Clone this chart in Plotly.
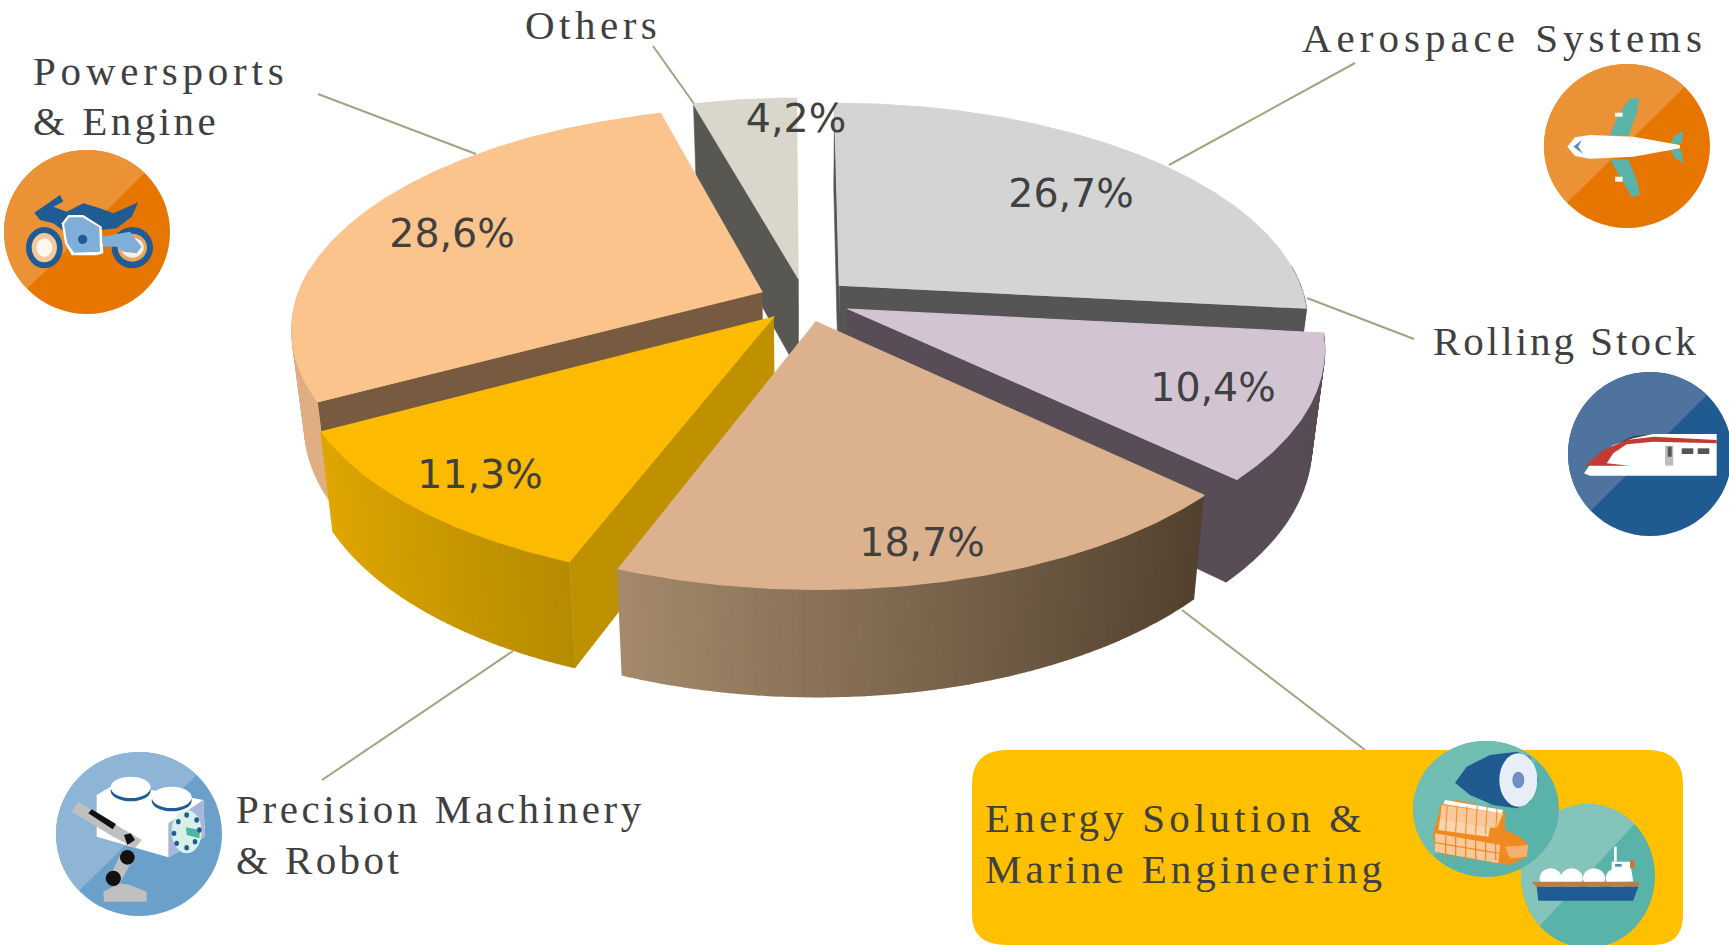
import json
import numpy as np
import plotly.graph_objects as go

# ---- data -------------------------------------------------------------
categories = ["Aerospace Systems", "Rolling Stock", "Energy Solution &\nMarine Engineering",
              "Precision Machinery\n& Robot", "Powersports\n& Engine", "Others"]
values = [26.7, 10.4, 18.7, 11.3, 28.6, 4.2]

# ---- style ------------------------------------------------------------
top_colors = ["#D4D4D4", "#D3C4D3", "#DBB28D", "#FCBB00", "#FBC48C", "#D9D7CB"]
wall_left = ["#555555", "#584C56", "#A48A6B", "#E0A600", "#E0AE84", "#55544F"]
wall_right = ["#555555", "#584C56", "#52412F", "#B58B00", "#E0AE84", "#55544F"]
face_colors = ["#555555", "#584C56", "#52412F", "#BF9000", "#785A40", "#585752"]
visible_faces = ["se", "e", "", "s", "s", "s"]
draw_order = [5, 0, 4, 1, 3, 2]
PULL = 0.1
CX, CY, RX, RY, PERSP, H, BOTTOM = 805, 300, 466, 216.5, 0.163, 94, 0.975
TEXT = "#404040"
LINE = "#A6A17F"
percent_xy = [(1071, 197), (1213, 391), (922, 546), (480, 478), (452, 237), (796, 122)]
label_xy = {
    0: [(1300, 38)], 1: [(1431, 341)], 2: [(983, 818), (983, 869)],
    3: [(234, 809), (234, 860)], 4: [(31, 71), (31, 121)], 5: [(523, 0)],
}
label_spacing = {0: [5.0], 1: [3.0], 2: [4.2, 4.0], 3: [3.6, 3.4], 4: [4.8, 3.5], 5: [4.5]}
leaders = [((1355, 63), (1169, 165)), ((1414, 339), (1307, 298)), ((1365, 750), (1182, 610)),
           ((322, 780), (513, 651)), ((318, 94), (476, 154)), ((653, 46), (697, 108))]


def project(X, Y, z=0.0):
    s = 1 / (1 + PERSP * Y)
    k = 1 - (1 - BOTTOM) * z
    return CX + RX * X * s * k, CY - RY * Y * s * k + H * z * s


fig = go.Figure()


def add_poly(xs, ys, color, width=0.6):
    fig.add_trace(go.Scatter(x=list(xs), y=list(ys), mode="lines", fill="toself", fillcolor=color,
                             line=dict(color=color, width=width), hoverinfo="skip", showlegend=False))


def mix(c1, c2, t):
    a = [int(c1[i:i + 2], 16) for i in (1, 3, 5)]
    b = [int(c2[i:i + 2], 16) for i in (1, 3, 5)]
    return "#%02X%02X%02X" % tuple(int(round(p + (q - p) * t)) for p, q in zip(a, b))


edges = np.concatenate([[0], np.cumsum(values)]) / 100 * 2 * np.pi
for i in draw_order:
    a0, a1 = edges[i], edges[i + 1]
    mid = (a0 + a1) / 2
    ox, oy = PULL * np.sin(mid), PULL * np.cos(mid)
    th = np.linspace(a0, a1, int(np.degrees(a1 - a0)) * 2 + 2)
    rimX, rimY = ox + np.sin(th), oy + np.cos(th)
    # cut faces
    for f in visible_faces[i]:
        a = a0 if f == "s" else a1
        ex, ey = ox + np.sin(a), oy + np.cos(a)
        p = [project(ox, oy, 0), project(ex, ey, 0), project(ex, ey, 1), project(ox, oy, 1)]
        add_poly([q[0] for q in p], [q[1] for q in p], face_colors[i])
    # outer wall, shaded left to right; the back of the rim faces away and is skipped
    xmin, xmax = rimX.min(), rimX.max()
    for j in range(len(th) - 1):
        if np.cos(th[j]) > 0.1:
            continue
        idx = np.array([j, j + 1])
        xt, yt = project(rimX[idx], rimY[idx], 0)
        xb, yb = project(rimX[idx], rimY[idx], 1)
        t = (rimX[idx].mean() - xmin) / max(xmax - xmin, 1e-6)
        add_poly(np.r_[xt, xb[::-1]], np.r_[yt, yb[::-1]], mix(wall_left[i], wall_right[i], t), width=1.6)
    # top
    xt, yt = project(np.r_[ox, rimX], np.r_[oy, rimY], 0)
    add_poly(xt, yt, top_colors[i], width=1.2)

# percent labels
fig.add_trace(go.Scatter(
    x=[p[0] for p in percent_xy], y=[p[1] for p in percent_xy], mode="text",
    text=[f"{v:.1f}".replace(".", ",") + "%" for v in values],
    textfont=dict(family="DejaVu Sans", size=39.5, color=TEXT),
    textposition="middle center", hoverinfo="skip", showlegend=False))

shapes = []


def line_shape(a, b):
    shapes.append(dict(type="line", x0=a[0], y0=a[1], x1=b[0], y1=b[1], layer="below",
                       line=dict(color=LINE, width=2)))


for a, b in leaders:
    line_shape(a, b)


def crop(ox, oy):
    """Helper that maps 3x zoom coordinates of an icon to page pixels."""
    return lambda x, y: (ox + x / 3, oy + y / 3)


def poly(m, pts, color, layer="above"):
    q = [m(*p) for p in pts]
    path = "M" + " L".join(f"{x:.1f},{y:.1f}" for x, y in q) + " Z"
    shapes.append(dict(type="path", path=path, fillcolor=color, line=dict(width=0), layer=layer))


def ell(m, cx, cy, rx, ry, color):
    x0, y0 = m(cx - rx, cy - ry)
    x1, y1 = m(cx + rx, cy + ry)
    shapes.append(dict(type="circle", x0=x0, y0=y0, x1=x1, y1=y1, fillcolor=color,
                       line=dict(width=0), layer="above"))


def badge(cx, cy, rx, ry, dark, light, off=0.02):
    """Two-tone round badge: light part is the upper left segment."""
    shapes.append(dict(type="circle", x0=cx - rx, y0=cy - ry, x1=cx + rx, y1=cy + ry, fillcolor=dark,
                       line=dict(width=0), layer="above"))
    span = np.arccos(off)
    base = np.radians(225)
    th = np.linspace(base - span, base + span, 60)
    pts = [(cx + rx * np.cos(t), cy + ry * np.sin(t)) for t in th]
    path = "M" + " L".join(f"{x:.1f},{y:.1f}" for x, y in pts) + " Z"
    shapes.append(dict(type="path", path=path, fillcolor=light, line=dict(width=0), layer="above"))


# yellow box
shapes.append(dict(type="path", layer="below", fillcolor="#FFC000", line=dict(width=0),
                   path="M972,785 Q972,750 1007,750 L1648,750 Q1683,750 1683,785 L1683,915 Q1683,945 1653,945 "
                        "L1007,945 Q972,945 972,915 Z"))

# motorcycle
badge(87, 232, 83, 82, "#E77600", "#EC9236")
m = crop(0, 20)
NAVY, LB = "#1F5C93", "#7FAFD8"
ell(m, 133, 683, 55, 62, NAVY); ell(m, 133, 683, 38, 44, "#F4C99E"); ell(m, 133, 683, 24, 28, "#FFF6EC")
ell(m, 397, 683, 62, 62, NAVY); ell(m, 397, 683, 44, 42, "#E9A560"); ell(m, 397, 683, 34, 30, "#FFF0E0")
poly(m, [(103, 578), (180, 525), (190, 545), (160, 560), (200, 575), (250, 550), (300, 565), (340, 580),
         (415, 547), (395, 590), (350, 625), (300, 630), (240, 640), (200, 640), (160, 610), (120, 600)], NAVY)
poly(m, [(185, 610), (205, 585), (250, 585), (305, 620), (310, 700), (290, 706), (215, 706), (195, 670)], "#FFFFFF")
poly(m, [(192, 612), (208, 592), (248, 592), (298, 622), (300, 695), (222, 698), (202, 670)], LB)
poly(m, [(305, 650), (390, 635), (400, 650), (425, 680), (410, 700), (370, 695), (350, 680), (310, 680)], LB)
ell(m, 248, 658, 14, 14, NAVY)

# aeroplane
badge(1627, 146, 83, 82, "#E77600", "#EC9236")
m = crop(1280, 0)
TEAL = "#59B3A9"
poly(m, [(990, 405), (1015, 345), (1050, 295), (1078, 295), (1070, 340), (1045, 408)], TEAL)
poly(m, [(990, 478), (1045, 478), (1070, 540), (1080, 585), (1055, 590), (1020, 530)], TEAL)
poly(m, [(1005, 338), (1028, 338), (1028, 350), (1005, 350)], "#FFF7E8")
poly(m, [(1005, 530), (1028, 530), (1028, 545), (1005, 545)], "#FFF7E8")
poly(m, [(1172, 430), (1185, 405), (1210, 393), (1205, 430)], TEAL)
poly(m, [(1172, 450), (1205, 450), (1210, 488), (1185, 475)], TEAL)
poly(m, [(862, 440), (885, 412), (930, 405), (1060, 410), (1200, 435), (1200, 445), (1060, 470), (930, 476),
         (885, 468)], "#FFFFFF")
poly(m, [(880, 440), (905, 420), (895, 440), (910, 462)], "#5E8DB8")

# train
badge(1650, 454, 82, 82, "#1F5A90", "#4F739F")
m = crop(1400, 300)
poly(m, [(552, 520), (580, 480), (640, 435), (700, 410), (760, 402), (950, 402), (950, 527), (570, 527)], "#FFFFFF")
poly(m, [(555, 497), (610, 450), (680, 420), (760, 410), (950, 420), (950, 430), (760, 425), (680, 433), (640, 460),
         (620, 490), (690, 497)], "#C23A33")
poly(m, [(640, 435), (700, 408), (760, 402), (700, 415)], "#444444")
poly(m, [(795, 437), (820, 437), (820, 497), (795, 497)], "#BDBDBD")
poly(m, [(803, 440), (815, 440), (815, 470), (803, 470)], "#555555")
poly(m, [(845, 445), (880, 445), (880, 462), (845, 462)], "#555555")
poly(m, [(893, 445), (928, 445), (928, 462), (893, 462)], "#555555")

# robot
badge(139, 834, 83, 82, "#6BA0CB", "#8FB5D6")
m = crop(40, 740)
poly(m, [(170, 165), (230, 130), (490, 180), (495, 290), (385, 352), (170, 290)], "#FFFFFF")
poly(m, [(385, 250), (490, 180), (495, 290), (385, 352)], "#A9B6D8")
ell(m, 440, 275, 45, 65, "#D8F0E8")
poly(m, [(438, 262), (480, 270), (478, 295), (440, 285)], "#4FB5A0")
for dx, dy in [(0, -50), (30, -35), (38, -5), (25, 30), (0, 48), (-30, 35), (-38, 5), (-25, -30)]:
    ell(m, 440 + dx, 275 + dy, 7, 8, NAVY)
ell(m, 272, 152, 60, 32, NAVY); ell(m, 272, 142, 60, 32, "#FFFFFF")
ell(m, 395, 182, 60, 32, NAVY); ell(m, 395, 172, 60, 32, "#FFFFFF")
poly(m, [(192, 485), (190, 455), (240, 430), (270, 435), (320, 455), (320, 485)], "#BFBFBF")
poly(m, [(245, 335), (285, 345), (240, 430), (200, 430)], "#BFBFBF")
poly(m, [(95, 215), (115, 185), (240, 262), (305, 300), (285, 325), (220, 290)], "#BFBFBF")
poly(m, [(145, 220), (155, 208), (228, 252), (218, 268)], "#111111")
poly(m, [(252, 285), (272, 280), (285, 300), (262, 315)], "#111111")
ell(m, 262, 352, 22, 22, "#111111"); ell(m, 220, 415, 23, 23, "#111111")

# engine and ship
badge(1588, 876, 67, 72, "#5AB3A8", "#85C4BA")
m = crop(1390, 730)
for cx in (482, 545, 612, 680):
    ell(m, cx, 445, 33, 30, "#FFFFFF")
poly(m, [(665, 395), (720, 395), (730, 455), (665, 455)], "#FFFFFF")
poly(m, [(672, 350), (680, 350), (680, 395), (672, 395)], "#FFFFFF")
poly(m, [(720, 390), (733, 390), (733, 415), (720, 415)], "#D0743A")
poly(m, [(425, 455), (748, 455), (745, 470), (438, 470)], "#B87F40")
poly(m, [(440, 470), (745, 470), (730, 512), (445, 512)], NAVY)
poly(m, [(675, 402), (695, 402), (695, 410), (675, 410)], "#5E8DA8")
badge(1486, 809, 73, 68, "#5AB3A8", "#70BDB3")
poly(m, [(195, 158), (230, 110), (300, 75), (380, 65), (420, 80), (445, 150), (420, 215), (380, 235), (310, 225),
         (240, 195)], "#1F5A90")
ell(m, 385, 150, 57, 80, "#E8EEF5")
ell(m, 385, 150, 18, 25, "#6F90C0")
poly(m, [(130, 310), (155, 220), (200, 210), (345, 245), (345, 300), (390, 320), (415, 345), (410, 380), (360, 405),
         (320, 400), (135, 365)], "#F08A20")
poly(m, [(155, 225), (340, 250), (320, 295), (150, 270)], "#F9C89A")
poly(m, [(165, 210), (340, 240), (335, 250), (160, 222)], "#FFFFFF")
poly(m, [(150, 268), (300, 292), (295, 320), (145, 300)], "#F9D4AE")
poly(m, [(135, 310), (330, 345), (325, 400), (135, 365)], "#F9C89A")
poly(m, [(345, 350), (415, 345), (410, 380), (360, 385)], "#F4B070")
for gx in range(165, 330, 30):
    poly(m, [(gx, 318), (gx + 4, 318), (gx + 4, 392), (gx, 390)], "#F08A20")
    poly(m, [(gx + 5, 228), (gx + 8, 228), (gx + 3, 312), (gx, 312)], "#F08A20")
poly(m, [(135, 336), (328, 368), (328, 372), (135, 340)], "#F08A20")

# category labels
annotations = []
spacings = []
for idx, lines in enumerate(c.split("\n") for c in categories):
    for n, (txt, (x, y)) in enumerate(zip(lines, label_xy[idx])):
        annotations.append(dict(x=x, y=y, text=txt, xanchor="left",
                                yanchor="top" if y == 0 else "middle", align="left",
                                showarrow=False, xref="x", yref="y",
                                font=dict(family="Liberation Serif", size=41, color=TEXT)))
        spacings.append(label_spacing[idx][n])

fig.update_layout(
    width=1729, height=945, margin=dict(l=0, r=0, t=0, b=0),
    paper_bgcolor="white", plot_bgcolor="white", showlegend=False,
    xaxis=dict(range=[0, 1729], visible=False, fixedrange=True),
    yaxis=dict(range=[945, 0], visible=False, fixedrange=True),
    shapes=shapes, annotations=annotations,
)

fig.write_html("out.html", config={"displayModeBar": False},
               post_script="var sp=" + json.dumps(spacings) + ";"
                           "document.querySelectorAll('.annotation-text').forEach(function(t,i){t.style.letterSpacing=sp[i]+'px';});"
                           "document.body.style.margin='0';")
